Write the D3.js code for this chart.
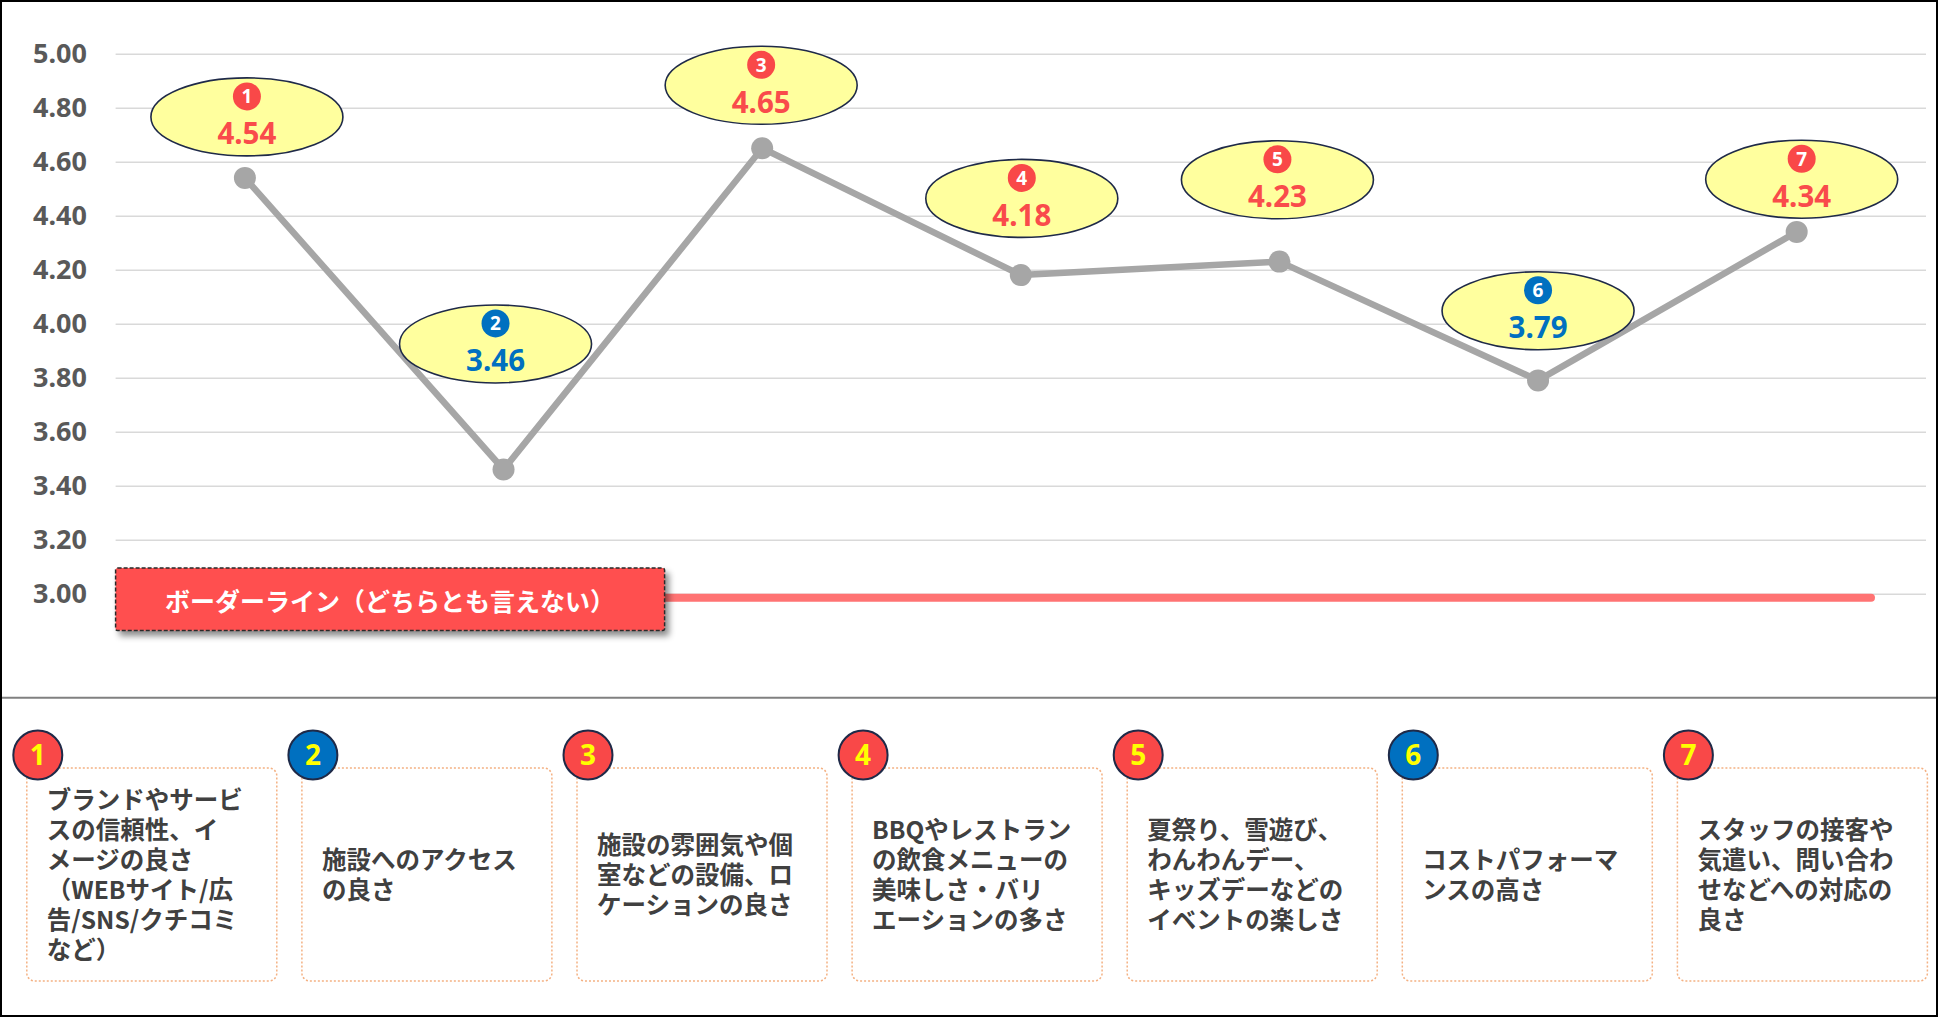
<!DOCTYPE html>
<html><head><meta charset="utf-8">
<script src="https://cdn.jsdelivr.net/npm/d3@7"></script>
<style>body{margin:0;background:#fff}svg{display:block}</style>
</head><body>
<svg id="c" width="1950" height="1018"></svg>
<script>
// ---- data ----
const categories = ["1","2","3","4","5","6","7"];
const values = [4.54, 3.46, 4.65, 4.18, 4.23, 3.79, 4.34];
// where each callout bubble sits, in value units
const calloutAt = [4.766, 3.925, 4.883, 4.464, 4.533, 4.048, 4.535];
const yTicks = [3.0, 3.2, 3.4, 3.6, 3.8, 4.0, 4.2, 4.4, 4.6, 4.8, 5.0];
const borderValue = 2.985;
const borderLabel = "ボーダーライン（どちらとも言えない）";
const descriptions = [
  ["ブランドやサービ","スの信頼性、イ","メージの良さ","（WEBサイト/広","告/SNS/クチコミ","など）"],
  ["施設へのアクセス","の良さ"],
  ["施設の雰囲気や個","室などの設備、ロ","ケーションの良さ"],
  ["BBQやレストラン","の飲食メニューの","美味しさ・バリ","エーションの多さ"],
  ["夏祭り、雪遊び、","わんわんデー、","キッズデーなどの","イベントの楽しさ"],
  ["コストパフォーマ","ンスの高さ"],
  ["スタッフの接客や","気遣い、問い合わ","せなどへの対応の","良さ"]
];
// ---- layout ----
const calloutShift = [2, -8, -1, 1, -2, 0, 5];
const RED = "#F94B4B", BLUE = "#0070C0";
const colorOf = v => v < 4 ? BLUE : RED;
const circledBg = v => v < 4 ? "#0070C0" : "#F94848";

const svg = d3.select("#c");
const defs = svg.append("defs");
const f = defs.append("filter").attr("id","sh").attr("x","-10%").attr("y","-30%").attr("width","130%").attr("height","180%");
f.append("feDropShadow").attr("dx",4).attr("dy",5).attr("stdDeviation",3).attr("flood-color","#000").attr("flood-opacity",0.45);

const x0 = 115.6, x1 = 1926;
const x = d3.scaleBand().domain(categories).range([x0, x1]);
const cx = c => x(c) + x.bandwidth()/2;
const y = d3.scaleLinear().domain([3,5]).range([593.7, 53.7]);

// y axis + gridlines
const ax = svg.append("g").attr("transform",`translate(${x0},0)`)
  .call(d3.axisLeft(y).tickValues(yTicks).tickFormat(d3.format(".2f")).tickSize(-(x1-x0)).tickPadding(28.6));
ax.select(".domain").remove();
ax.selectAll(".tick line").attr("stroke","#D9D9D9").attr("stroke-width",1.6);
ax.selectAll(".tick text").attr("fill","#595959").attr("font-family","'Noto Sans', sans-serif")
  .attr("font-weight","bold").attr("font-size",27);

// borderline
const bl = svg.append("g");
bl.append("line").attr("x1",664).attr("x2",x1-55).attr("y1",y(borderValue)).attr("y2",y(borderValue))
  .attr("stroke","#FF7373").attr("stroke-width",8).attr("stroke-linecap","round");
bl.append("rect").attr("x",x0).attr("y",568).attr("width",549).attr("height",62.5).attr("rx",2)
  .attr("fill","#FF5050").attr("stroke","#2a2a2a").attr("stroke-width",1.5).attr("stroke-dasharray","4,2")
  .attr("filter","url(#sh)");
bl.append("text").attr("x",165).attr("y",600).attr("dominant-baseline","central")
  .attr("fill","#fff").attr("font-family","'Noto Sans CJK JP', sans-serif").attr("font-weight","bold")
  .attr("font-size",25).text(borderLabel);

// line
const pts = categories.map((c,i)=>({c, v: values[i], i}));
svg.append("path").datum(pts)
  .attr("d", d3.line().x(d=>cx(d.c)).y(d=>y(d.v)))
  .attr("fill","none").attr("stroke","#A6A6A6").attr("stroke-width",6.5).attr("stroke-linejoin","round");
svg.selectAll(".mk").data(pts).join("circle").attr("class","mk")
  .attr("cx",d=>cx(d.c)).attr("cy",d=>y(d.v)).attr("r",11).attr("fill","#A6A6A6");

// callouts
const co = svg.selectAll(".co").data(pts).join("g").attr("class","co")
  .attr("transform",d=>`translate(${cx(d.c)+calloutShift[d.i]},${y(calloutAt[d.i])})`);
co.append("ellipse").attr("rx",96).attr("ry",39).attr("fill","#FFFF9E").attr("stroke","#1F2A48").attr("stroke-width",1.6);
co.append("circle").attr("cy",-20.5).attr("r",14).attr("fill",d=>circledBg(d.v));
co.append("text").attr("y",-20.5).attr("dy","0.36em").attr("text-anchor","middle").attr("fill","#fff")
  .attr("font-family","'Noto Sans', sans-serif").attr("font-weight","bold").attr("font-size",19).text(d=>d.c);
co.append("text").attr("y",27.5).attr("text-anchor","middle").attr("fill",d=>colorOf(d.v))
  .attr("font-family","'Noto Sans', sans-serif").attr("font-weight","bold").attr("font-size",29.5)
  .text(d=>d3.format(".2f")(d.v));

// separator
svg.append("line").attr("x1",0).attr("x2",1937).attr("y1",697.7).attr("y2",697.7).attr("stroke","#808080").attr("stroke-width",2);

// bottom boxes
const bx = d3.scaleBand().domain(categories).range([26.8, 26.8 + 275.1*7]);
const boxes = svg.selectAll(".bx").data(pts).join("g").attr("class","bx")
  .attr("transform",d=>`translate(${bx(d.c)},0)`);
boxes.append("rect").attr("x",0).attr("y",768).attr("width",250).attr("height",213).attr("rx",8)
  .attr("fill","none").attr("stroke","#F4B183").attr("stroke-width",1.5).attr("stroke-dasharray","2,2");
boxes.append("circle").attr("cx",11).attr("cy",755).attr("r",24.5).attr("fill",d=>circledBg(d.v))
  .attr("stroke","#1F2A48").attr("stroke-width",2);
boxes.append("text").attr("x",11).attr("y",755).attr("dy","0.36em").attr("text-anchor","middle")
  .attr("fill","#FFFF00").attr("font-family","'Noto Sans', sans-serif").attr("font-weight","bold")
  .attr("font-size",28).text(d=>d.c);
boxes.each(function(d){
  const lines = descriptions[d.i];
  const g = d3.select(this);
  lines.forEach((ln,k)=>{
    g.append("text").attr("fill","#404040")
      .attr("font-family","'Noto Sans CJK JP', sans-serif").attr("font-weight","bold").attr("font-size",24.5)
      .attr("x",20).attr("y",873.5 - (lines.length-1)*15 + k*30)
      .attr("dominant-baseline","central").text(ln);
  });
});

// frame
svg.append("rect").attr("x",1).attr("y",1).attr("width",1936).attr("height",1015)
  .attr("fill","none").attr("stroke","#000").attr("stroke-width",2);
</script>
</body></html>
